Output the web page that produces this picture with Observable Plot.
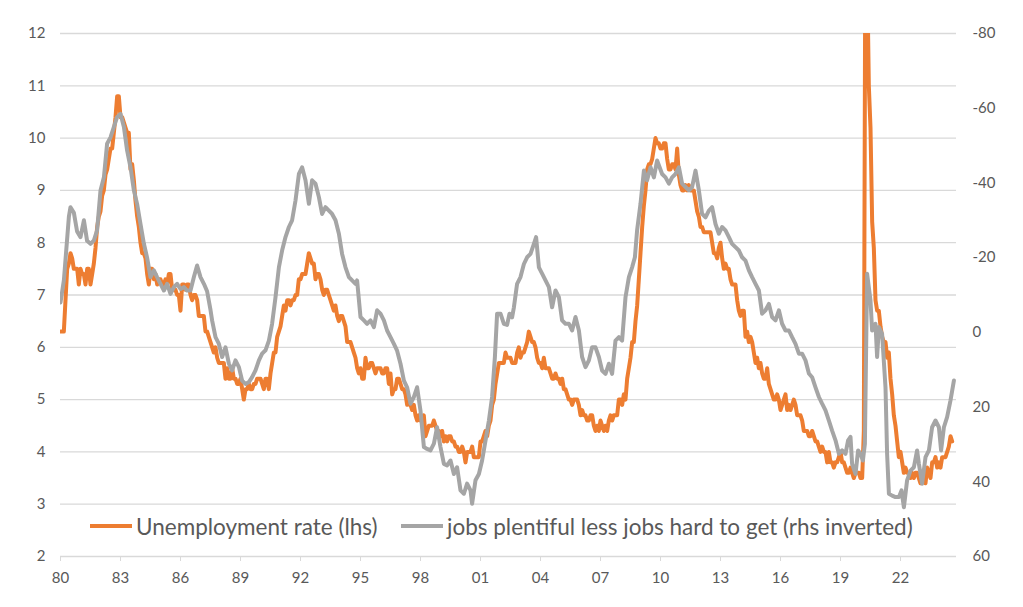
<!DOCTYPE html>
<html>
<head>
<meta charset="utf-8">
<script src="https://cdn.jsdelivr.net/npm/d3@7"></script>
<script src="https://cdn.jsdelivr.net/npm/@observablehq/plot@0.6"></script>
<style>
  body { margin: 0; background: #fff; font-family: Lato, "Open Sans", sans-serif; }
  #wrap { position: relative; width: 1023px; height: 607px; }
  .leg { position: absolute; top: 512px; height: 28px; display: flex; align-items: center;
         font-size: 22.5px; color: #595959; white-space: nowrap; font-family: Lato, sans-serif; }
  .sw { display: inline-block; width: 42px; height: 4px; margin-right: 4px; }
</style>
</head>
<body>
<div id="wrap">
  <div id="chart"></div>
  <div class="leg" style="left:90px"><span class="sw" style="background:#ED7D31"></span>Unemployment rate (lhs)</div>
  <div class="leg" style="left:401px"><span class="sw" style="background:#A5A5A5"></span>jobs plentiful less jobs hard to get (rhs inverted)</div>
</div>
<script>
// Monthly US unemployment rate, Jan 1980 – Aug 2024 (lhs)
const unemploymentRate = [
  6.3,6.3,6.3,6.9,7.5,7.6,7.8,7.7,7.5,7.5,7.5,7.2,
  7.5,7.4,7.4,7.2,7.5,7.5,7.2,7.4,7.6,7.9,8.3,8.5,
  8.6,8.9,9.0,9.3,9.4,9.6,9.8,9.8,10.1,10.4,10.8,10.8,
  10.4,10.4,10.3,10.2,10.1,10.1,9.4,9.5,9.2,8.8,8.5,8.3,
  8.0,7.8,7.8,7.7,7.4,7.2,7.5,7.5,7.3,7.4,7.2,7.3,
  7.3,7.2,7.2,7.3,7.2,7.4,7.4,7.1,7.1,7.1,7.0,7.0,
  6.7,7.2,7.2,7.1,7.2,7.2,7.0,6.9,7.0,7.0,6.9,6.6,
  6.6,6.6,6.6,6.3,6.3,6.2,6.1,6.0,5.9,6.0,5.8,5.7,
  5.7,5.7,5.7,5.4,5.6,5.4,5.4,5.6,5.4,5.4,5.3,5.3,
  5.4,5.2,5.0,5.2,5.2,5.3,5.2,5.2,5.3,5.3,5.4,5.4,
  5.4,5.3,5.2,5.4,5.4,5.2,5.5,5.7,5.9,5.9,6.2,6.3,
  6.4,6.6,6.8,6.7,6.9,6.9,6.8,6.9,6.9,7.0,7.0,7.3,
  7.3,7.4,7.4,7.4,7.6,7.8,7.7,7.6,7.6,7.3,7.4,7.4,
  7.3,7.1,7.0,7.1,7.1,7.0,6.9,6.8,6.7,6.8,6.6,6.5,
  6.6,6.6,6.5,6.4,6.1,6.1,6.1,6.0,5.9,5.8,5.6,5.5,
  5.6,5.4,5.4,5.8,5.6,5.6,5.7,5.7,5.6,5.5,5.6,5.6,
  5.6,5.5,5.5,5.6,5.6,5.3,5.5,5.1,5.2,5.2,5.4,5.4,
  5.3,5.2,5.2,5.1,4.9,5.0,4.9,4.8,4.9,4.7,4.6,4.7,
  4.6,4.6,4.7,4.3,4.4,4.5,4.5,4.5,4.6,4.5,4.4,4.4,
  4.3,4.4,4.2,4.3,4.2,4.3,4.3,4.2,4.2,4.1,4.1,4.0,
  4.0,4.1,4.0,3.8,4.0,4.0,4.0,4.1,3.9,3.9,3.9,3.9,
  4.2,4.2,4.3,4.4,4.3,4.5,4.6,4.9,5.0,5.3,5.5,5.7,
  5.7,5.7,5.7,5.9,5.8,5.8,5.8,5.7,5.7,5.7,5.9,6.0,
  5.8,5.9,5.9,6.0,6.1,6.3,6.2,6.1,6.1,6.0,5.8,5.7,
  5.7,5.6,5.8,5.6,5.6,5.6,5.5,5.4,5.4,5.5,5.4,5.4,
  5.3,5.4,5.2,5.2,5.1,5.0,5.0,4.9,5.0,5.0,5.0,4.9,
  4.7,4.8,4.7,4.7,4.6,4.6,4.7,4.7,4.5,4.4,4.5,4.4,
  4.6,4.5,4.4,4.5,4.4,4.6,4.7,4.6,4.7,4.7,4.7,5.0,
  5.0,4.9,5.1,5.0,5.4,5.6,5.8,6.1,6.1,6.5,6.8,7.3,
  7.8,8.3,8.7,9.0,9.4,9.5,9.5,9.6,9.8,10.0,9.9,9.9,
  9.8,9.8,9.9,9.9,9.6,9.4,9.4,9.5,9.5,9.4,9.8,9.3,
  9.1,9.0,9.0,9.1,9.0,9.1,9.0,9.0,9.0,8.8,8.6,8.5,
  8.3,8.3,8.2,8.2,8.2,8.2,8.2,8.0,7.8,7.8,7.7,7.9,
  8.0,7.7,7.5,7.6,7.5,7.5,7.3,7.2,7.2,7.2,6.9,6.7,
  6.6,6.7,6.7,6.2,6.3,6.1,6.2,6.1,5.9,5.7,5.8,5.6,
  5.7,5.5,5.4,5.4,5.6,5.3,5.2,5.1,5.0,5.0,5.1,5.0,
  4.8,4.9,5.0,5.1,4.8,4.9,4.8,4.9,5.0,4.9,4.7,4.7,
  4.7,4.6,4.4,4.4,4.4,4.3,4.3,4.4,4.3,4.2,4.2,4.1,
  4.0,4.1,4.0,4.0,3.8,4.0,3.8,3.8,3.7,3.8,3.8,3.9,
  4.0,3.8,3.8,3.7,3.6,3.6,3.7,3.6,3.5,3.6,3.6,3.6,
  3.5,3.5,4.4,14.8,13.2,11.0,10.2,8.4,7.9,6.9,6.7,6.7,
  6.4,6.2,6.1,6.1,5.8,5.9,5.4,5.1,4.7,4.5,4.2,3.9,
  4.0,3.8,3.6,3.7,3.6,3.6,3.5,3.6,3.5,3.6,3.6,3.5,
  3.4,3.6,3.5,3.4,3.7,3.6,3.5,3.8,3.8,3.9,3.7,3.8,
  3.7,3.9,3.9,3.9,4.0,4.1,4.3,4.2
];
const unemploymentStart = 1980;

// Jobs plentiful less jobs hard to get (rhs, inverted) – readings from the picture
const differentialDates = [
  1980.0,1980.17,1980.42,1980.5,1980.67,1980.83,1981.0,1981.17,1981.33,1981.5,1981.67,1981.83,
  1982.0,1982.17,1982.33,1982.5,1982.67,1982.83,1983.0,1983.17,1983.33,1983.5,1983.67,1983.83,
  1984.0,1984.17,1984.33,1984.5,1984.67,1984.83,1985.0,1985.17,1985.33,1985.5,1985.67,1985.83,
  1986.0,1986.17,1986.33,1986.5,1986.67,1986.83,1987.0,1987.17,1987.33,1987.5,1987.58,1987.75,1987.92,
  1988.08,1988.25,1988.42,1988.58,1988.75,1988.92,1989.08,1989.25,1989.42,1989.58,1989.75,1989.92,
  1990.08,1990.25,1990.42,1990.58,1990.75,1990.92,1991.08,1991.25,1991.42,1991.58,1991.75,1991.92,
  1992.08,1992.25,1992.42,1992.58,1992.75,1992.92,1993.08,1993.25,1993.42,1993.58,1993.75,1993.92,
  1994.08,1994.25,1994.42,1994.58,1994.75,1994.83,1995.0,1995.17,1995.33,1995.5,1995.67,1995.83,
  1996.0,1996.17,1996.33,1996.5,1996.67,1996.83,1997.0,1997.17,1997.33,1997.5,1997.67,1997.83,
  1998.0,1998.17,1998.33,1998.5,1998.67,1998.83,1999.0,1999.17,1999.33,1999.5,1999.67,1999.83,
  2000.0,2000.17,2000.33,2000.5,2000.58,2000.75,2000.92,2001.08,2001.25,2001.42,2001.58,2001.72,2001.83,
  2002.0,2002.17,2002.33,2002.45,2002.58,2002.67,2002.83,2003.0,2003.17,2003.33,2003.5,2003.67,2003.78,2003.92,
  2004.08,2004.25,2004.42,2004.58,2004.75,2004.92,2005.08,2005.25,2005.42,2005.58,2005.75,2005.92,
  2006.08,2006.25,2006.42,2006.58,2006.75,2006.92,2007.08,2007.25,2007.42,2007.58,2007.75,2007.92,
  2008.08,2008.25,2008.42,2008.58,2008.72,2008.83,2009.0,2009.17,2009.33,2009.5,2009.67,2009.83,
  2010.08,2010.25,2010.42,2010.58,2010.75,2010.92,2011.08,2011.25,2011.42,2011.58,2011.75,2011.92,
  2012.08,2012.25,2012.42,2012.58,2012.75,2012.92,2013.08,2013.25,2013.42,2013.58,2013.75,2013.92,
  2014.08,2014.25,2014.42,2014.58,2014.75,2014.92,2015.08,2015.25,2015.42,2015.58,2015.75,2015.92,
  2016.08,2016.25,2016.42,2016.58,2016.75,2016.92,2017.08,2017.25,2017.42,2017.58,2017.75,2017.92,
  2018.08,2018.25,2018.42,2018.58,2018.75,2018.92,2019.08,2019.25,2019.38,2019.5,2019.58,2019.75,2019.88,
  2020.0,2020.12,2020.22,2020.33,2020.5,2020.58,2020.75,2020.83,2020.92,2021.08,2021.25,2021.33,2021.42,
  2021.58,2021.75,2021.92,2022.05,2022.17,2022.33,2022.5,2022.67,2022.83,2022.92,
  2023.08,2023.25,2023.42,2023.58,2023.75,2023.92,2024.03,2024.17,2024.33,2024.5,2024.67
];
const differentialValues = [
  -8,-14,-31,-33.5,-32,-27,-25.5,-30,-24.5,-23.7,-24.6,-27.3,
  -38,-41.5,-50.5,-52.2,-55,-57.6,-58.5,-55,-48.7,-44.2,-38,-34.4,
  -29,-23.7,-20,-14.8,-16.6,-14.8,-13,-11.2,-13,-10.3,-12.1,-13,
  -11.6,-12.1,-11.2,-11.2,-14.8,-17.9,-14.8,-13,-11,-6,-3.2,1.3,3.1,
  6.6,4,8.4,10.2,7.5,9.3,12.9,13.8,13.3,12,10.2,7.5,
  5.7,4.8,2.2,-2.3,-9.4,-17.4,-21.9,-25.5,-28.2,-30,-35.3,-42.4,
  -44.2,-40.7,-34.4,-40.7,-39.8,-36.2,-31.7,-33.5,-32.6,-31.7,-30,-26.4,
  -21,-17.4,-14.8,-13.9,-13,-13.9,-4.1,-3.2,-2.3,-3.2,-1.4,-5.9,
  -5,-3.2,-0.5,1.3,3.1,4.9,8.4,12.9,14.7,19.1,17.3,14.7,
  21,30.7,31.2,31.6,29.8,25.4,30.7,35.2,35.6,34.3,37.9,36.1,
  42.3,43.2,40.5,42.3,45.9,39.6,37.9,34.3,29,23.6,17.3,6.6,-5,
  -5,-2.3,-2,-5,-4,-6.7,-13,-14.8,-18.3,-20.1,-21,-23.7,-25.5,-17.4,
  -15.7,-13.9,-12.1,-6.7,-11.2,-9.4,-3.2,-2.3,-2.3,-0.5,-4.1,-0.5,
  6.6,9.3,7.5,4,4,6.6,10.2,11.1,8.4,11.1,2.2,1.3,
  2.2,-9.4,-14.8,-17.4,-20.1,-27.3,-34.4,-43.3,-40.7,-44.2,-41.5,-46,
  -42.4,-41.5,-39.8,-41.5,-42.4,-44.2,-39.8,-38.9,-38,-38.9,-43.3,-38,
  -31.7,-30.8,-32.6,-33.5,-29,-26.4,-28.2,-27.3,-25.5,-23.7,-22.8,-21.9,
  -20.1,-19.2,-16.6,-14.8,-13,-11.2,-5,-5.9,-7.6,-4.1,-3.2,-5.9,
  -2.3,-0.5,-0.5,1.3,3.1,5.7,5.7,7.5,11,12,14.7,17.3,
  19.1,20.9,23.6,26.3,28.9,32.5,31.6,32.5,28.9,28,35.2,37.9,31.6,
  32.5,34.3,29.8,-15.7,-8.5,-0.5,-2.3,6.6,-1.4,0.4,14.7,32.5,43.2,
  43.7,44.1,44.1,42.3,46.8,39.6,37,36.1,31.6,35.2,
  40.5,33.4,31.6,25.4,23.6,25.4,31.6,25.4,22.7,18.2,12.9
];

const xTicks = [1980,1983,1986,1989,1992,1995,1998,2001,2004,2007,2010,2013,2016,2019,2022];
const leftTicks = [2,3,4,5,6,7,8,9,10,11,12];
const rightTicks = [-80,-60,-40,-20,0,20,40,60];

// Dual axis: right (inverted) values onto the left scale
const rightMin = -80, rightMax = 60, leftMin = 2, leftMax = 12;
const toLeft = v => leftMax - (v - rightMin) / (rightMax - rightMin) * (leftMax - leftMin);
const fromLeft = y => rightMin + (leftMax - y) / (leftMax - leftMin) * (rightMax - rightMin);

const unemployment = unemploymentRate.map((u, i) => ({date: unemploymentStart + i / 12, value: u}));
const differential = differentialDates.map((t, i) => ({date: t, value: toLeft(differentialValues[i])}));

const textColor = "#595959";
const gridColor = "#d9d9d9";

const chart = Plot.plot({
  width: 1023,
  height: 607,
  marginLeft: 60,
  marginRight: 67,
  marginTop: 33,
  marginBottom: 51,
  style: {fontFamily: "Lato, sans-serif", fontSize: "15px", background: "#fff", overflow: "visible"},
  x: {domain: [1980, 2024.8], axis: null, label: null},
  y: {domain: [leftMin, leftMax], axis: null, label: null},
  marks: [
    Plot.gridY(leftTicks, {stroke: gridColor, strokeOpacity: 1, strokeWidth: 1.3}),
    Plot.axisX(xTicks, {anchor: "bottom", tickSize: 5, tickPadding: 11, stroke: gridColor, strokeOpacity: 1,
      fill: textColor, label: null, tickFormat: d => String(d % 100).padStart(2, "0")}),
    Plot.axisY(leftTicks, {anchor: "left", tickSize: 0, tickPadding: 15, fill: textColor, label: null,
      tickFormat: d => String(d)}),
    Plot.axisY(rightTicks.map(toLeft), {anchor: "right", tickSize: 0, tickPadding: 16, fill: textColor, label: null,
      tickFormat: d => String(Math.round(fromLeft(d)))}),
    Plot.line(unemployment, {x: "date", y: "value", stroke: "#ED7D31", strokeWidth: 4, clip: true}),
    Plot.line(differential, {x: "date", y: "value", stroke: "#A5A5A5", strokeWidth: 4, clip: true})
  ]
});
document.getElementById("chart").appendChild(chart);
</script>
</body>
</html>
